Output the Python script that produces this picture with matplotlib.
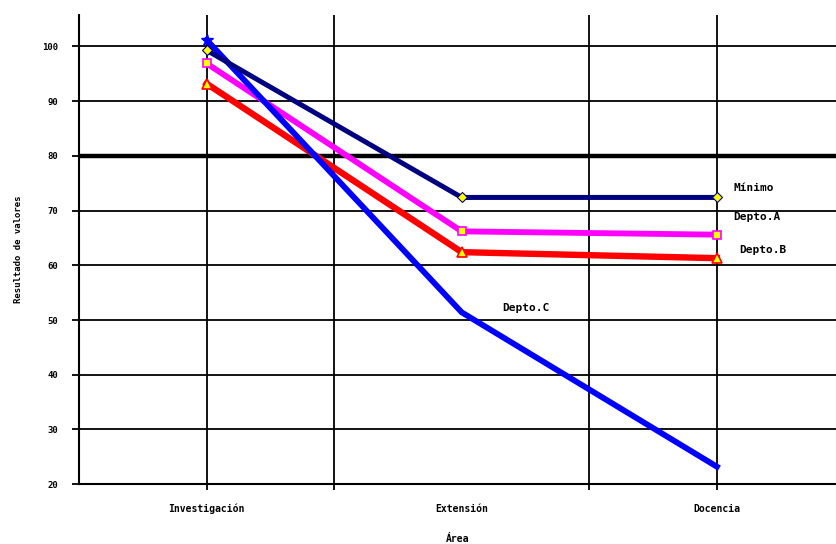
import matplotlib
matplotlib.use('Agg')
import matplotlib.pyplot as plt

areas = ['Investigación', 'Extensión', 'Docencia']
minimo = [99.3, 72.4, 72.4]
depto_a = [96.9, 66.2, 65.6]
depto_b = [93.2, 62.4, 61.3]
depto_c = [101.2, 51.4, 23.2]
y_ticks = [20, 30, 40, 50, 60, 70, 80, 90, 100]
x_grid = [0, 0.5, 1.5, 2]

fig = plt.figure(figsize=(8.36, 5.44), dpi=100)
ax = fig.add_axes([0.0945, 0.110, 0.9055, 0.862])
x = list(range(len(areas)))

ax.plot(x, minimo, color='#000080', lw=3.6, marker='D', ms=5,
        mfc='#FFFF00', mec='#000080', mew=0.8, zorder=4)
ax.plot(x, depto_a, color='#FF00FF', lw=4.2, marker='s', ms=6,
        mfc='#FFFF00', mec='#FF00FF', mew=1.2, zorder=3)
ax.plot(x, depto_b, color='#FF0000', lw=4.6, marker='^', ms=7,
        mfc='#FFFF00', mec='#FF0000', mew=1.2, zorder=2)
ax.plot(x, depto_c, color='#0000FF', lw=4.2, marker='*', ms=9,
        mfc='#0000FF', mec='#0000FF', markevery=[0], zorder=3.5)

for y in y_ticks:
    ax.axhline(y, color='black', lw=3.2 if y == 80 else 1.3, zorder=1)
for xv in x_grid:
    ax.axvline(xv, color='black', lw=1.3, zorder=1)

ax.set_xlim(-0.5, 2.467)
ax.set_ylim(20, 105.7)
ax.set_yticks(y_ticks)
ax.set_yticklabels([str(v) for v in y_ticks], fontfamily='DejaVu Sans Mono',
                   fontsize=6.5, fontweight='bold')
ax.xaxis.remove_overlapping_locs = False
ax.set_xticks(x_grid)
ax.set_xticklabels([])
ax.set_xticks(x, minor=True)
ax.set_xticklabels(areas, minor=True, fontfamily='DejaVu Sans Mono',
                   fontsize=7, fontweight='bold')
ax.tick_params(axis='x', which='minor', length=0, pad=14)
ax.tick_params(axis='x', which='major', length=4, width=1.3, direction='out')
ax.tick_params(axis='y', length=5, width=1.3, pad=10)

for s in ['top', 'right']:
    ax.spines[s].set_visible(False)
for s in ['left', 'bottom']:
    ax.spines[s].set_linewidth(1.5)

ax.set_xlabel('Área', fontfamily='DejaVu Sans Mono', fontsize=7,
              fontweight='bold', labelpad=14)
ax.set_ylabel('Resultado de valores', fontfamily='DejaVu Sans Mono',
              fontsize=6.5, fontweight='bold', labelpad=14)

lab = dict(fontfamily='DejaVu Sans Mono', fontsize=8, fontweight='bold',
           textcoords='offset points', va='center', ha='left')
ax.annotate('Mínimo', xy=(2, minimo[2]), xytext=(12, 7), **lab)
ax.annotate('Depto.A', xy=(2, depto_a[2]), xytext=(12, 13), **lab)
ax.annotate('Depto.B', xy=(2, depto_b[2]), xytext=(16, 6), **lab)
ax.annotate('Depto.C', xy=(1, depto_c[1]), xytext=(29, 3), **lab)

fig.savefig('out.png', dpi=100)
